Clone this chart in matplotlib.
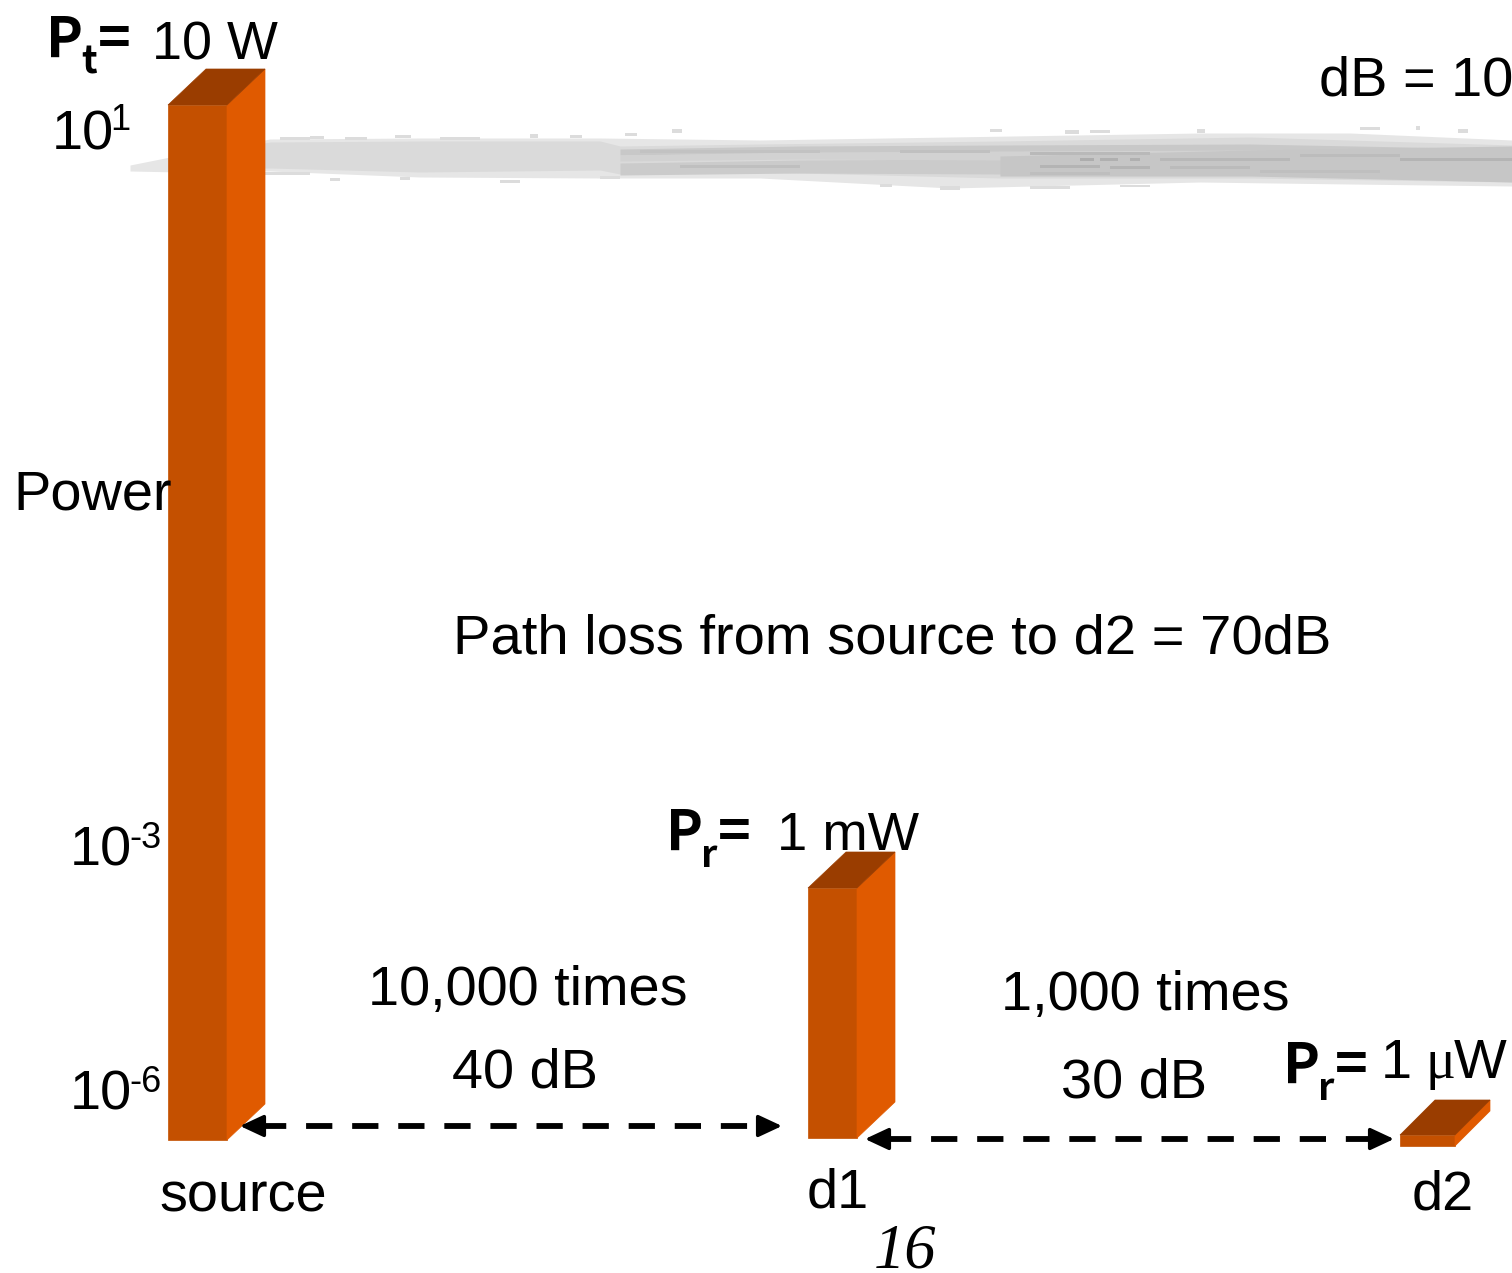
import numpy as np
import matplotlib
matplotlib.use("Agg")
import matplotlib.pyplot as plt
from matplotlib.patches import Polygon, Rectangle

# --- data -----------------------------------------------------------------
categories = ["source", "d1", "d2"]
power_watts = [10.0, 1e-3, 1e-6]
tick_exponents = ["1", "-3", "-6"]
path_loss_db = ["40 dB", "30 dB"]
path_loss_times = ["10,000 times", "1,000 times"]

# --- layout ---------------------------------------------------------------
W, H = 1512, 1273
bar_left = [168, 808, 1400]
bar_width = [59, 49, 55]
bar_base_px = [1140, 1138, 1146]
bar_depth = [(38, 36), (38, 36), (35, 35)]
FRONT, SIDE, TOP = "#C45000", "#E05A00", "#9A3D00"

# the slide's power axis is not uniform: the decades are drawn at different spacing
anchor_log = np.array([-7.68, -6.45, -6.0, -3.0, 1.0, 1.536])
anchor_px = np.array([1273.0, 1146.0, 1135.0, 888.0, 105.0, 0.0])


def forward(v):
    v = np.maximum(np.asarray(v, dtype=float), 1e-12)
    return -np.interp(np.log10(v), anchor_log, anchor_px)


def inverse(y):
    return 10.0 ** np.interp(np.asarray(y, dtype=float), -anchor_px, anchor_log)


fig = plt.figure(figsize=(W / 100, H / 100), dpi=100, facecolor="white")

# background layer: grey brush stroke
bg = fig.add_axes([0, 0, 1, 1], zorder=0)
bg.set_xlim(0, W); bg.set_ylim(H, 0); bg.axis("off")
outer_x = [130, 180, 270, 420, 600, 760, 950, 1200, 1350, 1512]
outer_t = [165, 155, 139, 138, 138, 140, 137, 133, 133, 140]
outer_b = [171, 172, 171, 177, 178, 178, 188, 182, 184, 186]
bg.fill_between(outer_x, outer_t, outer_b, color="#E6E6E6", lw=0)
inner_x = [180, 270, 420, 600, 620, 760, 1000, 1250, 1512]
inner_t = [158, 142, 141, 141, 146, 144, 141, 137, 145]
inner_b = [169, 168, 172, 170, 174, 172, 178, 178, 182]
bg.fill_between(inner_x, inner_t, inner_b, color="#DADADA", lw=0)
band_x = [620, 800, 1000, 1250, 1512]
for t_, b_, c_ in [(146, 152, "#C8C8C8"), (160, 172, "#CBCBCB"), (152, 158, "#D2D2D2")]:
    bg.fill_between(band_x, [t_ + 3, t_, t_ - 1, t_ - 2, t_ + 3], [b_ + 3, b_ + 1, b_ + 2, b_ + 2, b_ + 5],
                    color=c_, lw=0)
bg.fill_between([1000, 1250, 1512], [156, 150, 146], [176, 176, 182], color="#C6C6C6", lw=0)
for sx, sy, sw, sh in [(672, 129, 10, 4), (990, 129, 12, 3), (1065, 130, 14, 4), (1090, 130, 20, 3),
                       (1197, 129, 8, 4), (1360, 127, 20, 3), (1416, 126, 4, 4), (1458, 129, 10, 4),
                       (280, 137, 30, 3), (400, 177, 10, 3), (330, 178, 10, 3), (500, 180, 20, 3),
                       (940, 186, 20, 4), (880, 184, 12, 3), (310, 136, 14, 3), (345, 137, 22, 3),
                       (395, 135, 16, 3), (440, 137, 40, 3), (530, 134, 8, 4), (570, 135, 12, 3),
                       (625, 133, 12, 3), (250, 172, 60, 3), (600, 176, 20, 3), (1030, 186, 40, 3),
                       (1120, 185, 30, 2)]:
    bg.add_patch(Rectangle((sx, sy), sw, sh, color="#DCDCDC", lw=0))
for sx, sy, sw, c_ in [(1030, 152, 120, "#B9B9B9"), (1080, 158, 14, "#ADADAD"), (1100, 158, 18, "#B0B0B0"),
                       (1130, 158, 10, "#B0B0B0"), (1160, 158, 130, "#B8B8B8"), (1040, 165, 60, "#B4B4B4"),
                       (1110, 166, 40, "#B4B4B4"), (1170, 166, 80, "#BBBBBB"), (1300, 154, 100, "#BCBCBC"),
                       (1400, 158, 112, "#B4B4B4"), (1030, 172, 80, "#BEBEBE"), (1260, 170, 120, "#BFBFBF"),
                       (640, 150, 180, "#C2C2C2"), (900, 150, 90, "#C0C0C0"), (680, 165, 120, "#BFBFBF")]:
    bg.add_patch(Rectangle((sx, sy), sw, 2.5, color=c_, lw=0))

# main layer: bars through the value scale
ax = fig.add_axes([0, 0, 1, 1], zorder=1)
ax.patch.set_alpha(0)
ax.set_xlim(0, W)
ax.set_yscale("function", functions=(forward, inverse))
ax.set_ylim(inverse(-H), inverse(0))
ax.axis("off")

bottoms = [float(inverse(-p)) for p in bar_base_px]
heights = [v - b for v, b in zip(power_watts, bottoms)]
ax.bar(bar_left, heights, width=bar_width, bottom=bottoms, align="edge",
       color=FRONT, edgecolor=FRONT, linewidth=0.5, zorder=3)

# top layer: depth faces, text and arrows in picture coordinates
ov = fig.add_axes([0, 0, 1, 1], zorder=2)
ov.patch.set_alpha(0)
ov.set_xlim(0, W); ov.set_ylim(H, 0); ov.axis("off")

for left, wd, base, (dx, dy), v in zip(bar_left, bar_width, bar_base_px, bar_depth, power_watts):
    top = float(-forward(v))
    r = left + wd
    ov.add_patch(Polygon([(r, top), (r + dx, top - dy), (r + dx, base - dy), (r, base)],
                         closed=True, fc=SIDE, ec=SIDE, lw=0.5))
    ov.add_patch(Polygon([(left, top), (left + dx, top - dy), (r + dx, top - dy), (r, top)],
                         closed=True, fc=TOP, ec=TOP, lw=0.5))

SANS = "Liberation Sans"
BOLD = "Noto Sans CJK KR"
FS = 40.2


def t(x, y, s, size=FS, family=SANS, **kw):
    ov.text(x, y, s, fontsize=size, family=family, ha="left", va="baseline",
            color="black", **kw)


# transmit / receive labels
t(46, 57, "P", size=40, family=BOLD, weight="bold")
t(81, 73, "t", size=27, family=BOLD, weight="bold")
t(98, 57, "=", size=40, family=BOLD, weight="bold")
t(152, 60, "10 W", size=38.8)
t(666, 850, "P", size=40, family=BOLD, weight="bold")
t(701, 867, "r", size=27, family=BOLD, weight="bold")
t(718, 850, "=", size=40, family=BOLD, weight="bold")
t(777, 850, "1 mW", size=39.2)
t(1283, 1083, "P", size=40, family=BOLD, weight="bold")
t(1318, 1100, "r", size=27, family=BOLD, weight="bold")
t(1335, 1083, "=", size=40, family=BOLD, weight="bold")
t(1381, 1078, "1", size=FS)
t(1425, 1078, "\u03bc", size=FS, family="Liberation Serif")
t(1454, 1078, "W", size=FS)

# power axis labels
for (x, y, sx, sy), e in zip([(52, 150, 110, 130), (70, 866, 129, 848), (70, 1110, 129, 1092)],
                             tick_exponents):
    t(x, y, "10", size=FS)
    t(sx, sy, e, size=26)
t(13, 510, "Power")

t(453, 653, "Path loss from source to d2 = 70dB", size=40.4)
t(1319, 96, "dB = 10", clip_on=True)

t(368, 1005, path_loss_times[0])
t(452, 1087, path_loss_db[0])
t(1001, 1010, path_loss_times[1])
t(1061, 1098, path_loss_db[1])

for (x, y), c in zip([(159, 1211), (807, 1207), (1412, 1210)], categories):
    t(x, y, c)

t(874, 1268, "16", size=45, family="Liberation Serif", style="italic")


def double_arrow(x0, x1, y):
    ov.plot([x0 + 20, x1 - 20], [y, y], color="black", lw=4.2,
            dashes=(4.5, 3.4), dash_capstyle="butt", solid_capstyle="butt")
    for tip, tail in ((x0, x0 + 24), (x1, x1 - 24)):
        ov.annotate("", xy=(tip, y), xytext=(tail, y),
                    arrowprops=dict(arrowstyle="-|>,head_length=0.9,head_width=0.42",
                                    fc="black", ec="black", lw=2.6,
                                    shrinkA=0, shrinkB=0, mutation_scale=16))


double_arrow(240, 782, 1126)
double_arrow(865, 1394, 1139)

fig.savefig("out.png", dpi=100, facecolor="white")
